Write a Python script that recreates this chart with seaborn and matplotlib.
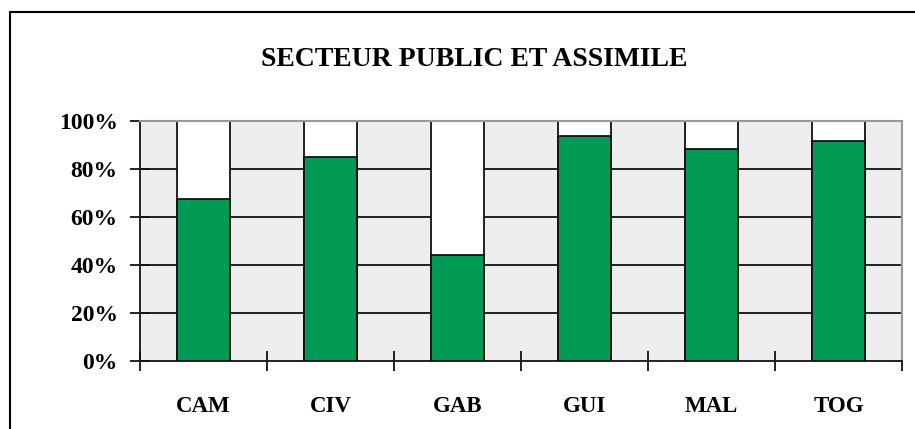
import numpy as np
import pandas as pd
import matplotlib
matplotlib.use('Agg')
import matplotlib.pyplot as plt
import seaborn as sns
from matplotlib.patches import Rectangle

# données
pays = ['CAM', 'CIV', 'GAB', 'GUI', 'MAL', 'TOG']
part_public = [0.675, 0.85, 0.443, 0.939, 0.882, 0.917]
total = [1.0, 1.0, 1.0, 1.0, 1.0, 1.0]
yticks = [0, 0.2, 0.4, 0.6, 0.8, 1.0]
ylabels = ['0%', '20%', '40%', '60%', '80%', '100%']

sns.set_style('white')
plt.rcParams['font.family'] = ['Liberation Serif', 'DejaVu Serif']
plt.rcParams['font.weight'] = 'bold'
plt.rcParams['text.color'] = 'black'
plt.rcParams['xtick.color'] = 'black'
plt.rcParams['ytick.color'] = 'black'

df = pd.DataFrame({'pays': pays, 'public': part_public, 'total': total})

fig = plt.figure(figsize=(9.15, 4.29), dpi=100)
ax = fig.add_axes([140/915, 1-361/429, 762/915, 240/429])
ax.set_facecolor('#EEEEEE')

# cadre extérieur
fig.patches.append(Rectangle((10/915, -0.1), 1.2, (429-12)/429 + 0.1, transform=fig.transFigure,
                             fill=False, edgecolor='black', linewidth=1.5, zorder=0))

for y in yticks[1:-1]:
    ax.axhline(y, color='#111111', linewidth=1.3, zorder=1)

sns.barplot(data=df, x='pays', y='total', color='white', edgecolor='#111111',
            linewidth=1.3, width=0.41, saturation=1, ax=ax, zorder=2)
sns.barplot(data=df, x='pays', y='public', color='#009A55', edgecolor='#111111',
            linewidth=1.3, width=0.41, saturation=1, ax=ax, zorder=3)

ax.set_xlim(-0.5, len(pays)-0.5)
ax.set_ylim(0, 1.0)
ax.set_xlabel('')
ax.set_ylabel('')
ax.set_yticks(yticks)
ax.set_yticklabels(ylabels, fontsize=17, fontweight='bold')
ax.set_xticks(range(len(pays)))
ax.set_xticklabels(pays, fontsize=16.5, fontweight='bold')
ax.set_xticks(np.arange(-0.5, len(pays), 1.0), minor=True)
ax.tick_params(axis='x', which='major', length=0, pad=25, bottom=True)
ax.tick_params(axis='x', which='minor', direction='inout', length=14, width=1.3,
               color='#111111', bottom=True)
ax.tick_params(axis='y', direction='inout', length=14, width=1.3, color='#111111',
               pad=9, left=True)

for s in ['left', 'bottom']:
    ax.spines[s].set_color('#111111')
    ax.spines[s].set_linewidth(1.3)
for s in ['top', 'right']:
    ax.spines[s].set_color('#999999')
    ax.spines[s].set_linewidth(1.5)
    ax.spines[s].set_visible(True)

fig.text(474/915, 1-59/429, 'SECTEUR PUBLIC ET ASSIMILE', ha='center', va='center',
         fontsize=20, fontweight='bold')

plt.savefig('out.png', dpi=100)
